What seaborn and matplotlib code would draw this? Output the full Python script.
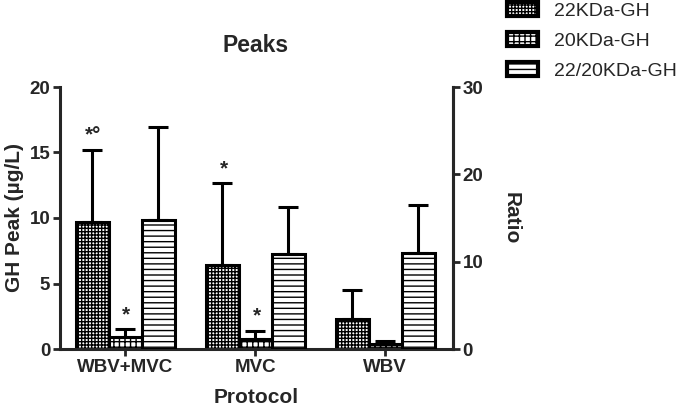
import pandas as pd
import matplotlib
matplotlib.use("Agg")
import matplotlib.pyplot as plt
from matplotlib.patches import Patch
import seaborn as sns

# values
protocols = ['WBV+MVC', 'MVC', 'WBV']
types = ['22KDa-GH', '20KDa-GH', '22/20KDa-GH']
gh22_mean = [9.72, 6.45, 2.27]
gh22_sd = [5.47, 6.2, 2.23]
gh20_mean = [0.94, 0.74, 0.38]
gh20_sd = [0.56, 0.66, 0.22]
ratio_mean = [14.77, 10.88, 11.03]
ratio_sd = [10.6, 5.34, 5.46]
hatches = ['+++++', '+++', '---']
# significance marks: (protocol, type, text)
marks = [('WBV+MVC', '22KDa-GH', '*°'), ('WBV+MVC', '20KDa-GH', '*'),
         ('MVC', '22KDa-GH', '*'), ('MVC', '20KDa-GH', '*')]

df = pd.DataFrame({
    'Protocol': protocols * 3,
    'Type': [t for t in types for _ in protocols],
    'Mean': gh22_mean + gh20_mean + ratio_mean,
    'SD': gh22_sd + gh20_sd + ratio_sd,
})
sd_lookup = df.set_index(['Protocol', 'Type'])['SD']

sns.set_style('ticks')
plt.rcParams['font.family'] = ['Liberation Sans', 'DejaVu Sans']
plt.rcParams['hatch.linewidth'] = 1.0
plt.rcParams['hatch.color'] = 'black'

fig = plt.figure(figsize=(6.85, 4.07), dpi=100)
ax1 = fig.add_axes([60/685, 1-349/407, 393/685, 262/407])
ax2 = ax1.twinx()

width = 0.76
pal = {t: 'white' for t in types}
bar_kw = dict(x='Protocol', y='Mean', hue='Type', order=protocols, hue_order=types,
              palette=pal, errorbar=None, width=width, edgecolor='black',
              linewidth=2.2, legend=False, saturation=1)

# GH on the left axis, ratio on the right axis; the other slots are kept
# at zero so that seaborn dodges all three and are hidden afterwards
is_ratio = df['Type'] == '22/20KDa-GH'
df1 = df.copy()
df1.loc[is_ratio, 'Mean'] = 0
df2 = df.copy()
df2.loc[~is_ratio, 'Mean'] = 0
sns.barplot(data=df1, ax=ax1, **bar_kw)
sns.barplot(data=df2, ax=ax2, **bar_kw)

tops = {}
for ax, own in [(ax1, [0, 1]), (ax2, [2])]:
    for b in ax.patches:
        xc = b.get_x() + b.get_width()/2
        h = b.get_height()
        pi = int(round(xc))
        ti = int(round((xc - pi) / (width/3))) + 1
        if ti not in own:
            b.set_visible(False)
            continue
        p, t = protocols[pi], types[ti]
        b.set_hatch(hatches[ti])
        s = sd_lookup[(p, t)]
        ax.errorbar([xc], [h], yerr=[[0], [s]], fmt='none', ecolor='black',
                    elinewidth=2.2, capsize=7, capthick=2.2, zorder=1)
        tops[(p, t)] = (ax, xc, h + s)

for p, t, txt in marks:
    ax, x, y = tops[(p, t)]
    ax.annotate(txt, xy=(x, y), xytext=(1, 6.5), textcoords='offset points',
                ha='center', va='baseline', fontsize=15, fontweight='bold')

ax1.set_xlim(-0.5, 2.52)
ax1.set_ylim(0, 20)
ax2.set_ylim(0, 30)
ax1.set_yticks([0, 5, 10, 15, 20])
ax2.set_yticks([0, 10, 20, 30])

for ax in (ax1, ax2):
    ax.spines['top'].set_visible(False)
    for s in ax.spines.values():
        s.set_linewidth(2.2)
    ax.tick_params(width=2, length=5, labelsize=13.5, pad=2)
    for lab in ax.get_xticklabels() + ax.get_yticklabels():
        lab.set_fontweight('bold')
ax2.spines['left'].set_visible(False)
ax2.spines['bottom'].set_visible(False)

ax1.set_xlabel('Protocol', fontsize=15, fontweight='bold', labelpad=9)
ax1.set_ylabel('GH Peak (µg/L)', fontsize=15, fontweight='bold', labelpad=4)
ax2.set_ylabel('Ratio', fontsize=15, fontweight='bold', rotation=270, labelpad=27)
fig.text(256/685, 1-46/407, 'Peaks', ha='center', va='center',
         fontsize=16.5, fontweight='bold')

handles = [Patch(facecolor='white', edgecolor='black', hatch=h, linewidth=3)
           for h in hatches]
fig.legend(handles, types, loc='upper left', bbox_to_anchor=(505/685, 1.0),
           frameon=False, fontsize=14, handlelength=1.6, handleheight=0.7,
           handletextpad=0.8, labelspacing=0.65, borderpad=0.1, borderaxespad=0)

fig.savefig('out.png', dpi=100)
